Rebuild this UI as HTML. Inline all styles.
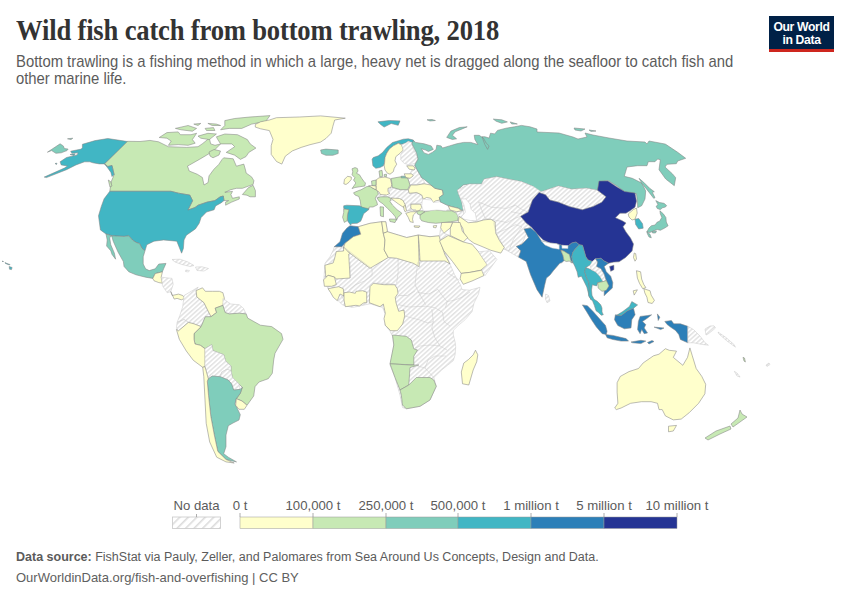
<!DOCTYPE html>
<html><head><meta charset="utf-8">
<style>
html,body{margin:0;padding:0;background:#fff;}
body{width:850px;height:600px;position:relative;overflow:hidden;font-family:"Liberation Sans",sans-serif;}
.t{position:absolute;white-space:nowrap;}
#title{left:15.5px;top:14.3px;font-family:"Liberation Serif",serif;font-weight:bold;font-size:29px;color:#333;letter-spacing:-0.2px;transform:scaleX(0.918);transform-origin:0 0;}
#sub{left:16px;top:52.5px;font-size:16.4px;line-height:17.8px;color:#5b5b5b;transform:scaleX(0.905);transform-origin:0 0;}
#logo{position:absolute;left:769px;top:16px;width:65px;height:36px;background:#002147;}
#logo .bar{position:absolute;left:0;bottom:0;width:65px;height:3px;background:#ce261e;}
#logo .txt{position:absolute;left:0;top:5px;width:65px;text-align:center;color:#fff;font-size:12.2px;line-height:12.5px;font-weight:bold;letter-spacing:-0.35px;}
.lg{position:absolute;top:498px;font-size:13.2px;color:#5b5b5b;transform:translateX(-50%);}
#src{left:16px;top:550px;font-size:12.5px;color:#5b5b5b;}
#url{left:16px;top:569.7px;font-size:13px;color:#606060;}
</style></head><body>
<div class="t" id="title">Wild fish catch from bottom trawling, 2018</div>
<div class="t" id="sub">Bottom trawling is a fishing method in which a large, heavy net is dragged along the seafloor to catch fish and<br>other marine life.</div>
<div id="logo"><div class="txt">Our World<br>in Data</div><div class="bar"></div></div>
<svg style="position:absolute;left:0;top:0" width="850" height="600" viewBox="0 0 850 600">
<defs>
<pattern id="hatch" patternUnits="userSpaceOnUse" width="3.35" height="3.35" patternTransform="rotate(48)">
<rect width="3.35" height="3.35" fill="#fff"/><rect width="1.5" height="3.35" fill="#e2e2e2"/>
</pattern>
<pattern id="hatch2" patternUnits="userSpaceOnUse" width="6" height="6" patternTransform="rotate(45)">
<rect width="6" height="6" fill="#fff"/><rect width="1.6" height="6" fill="#dcdcdc"/>
</pattern>
</defs>
<path d="M47.4,152.2L60.1,143.8L63.3,145.9L64.4,148.5L68.1,149.1L67.0,150.6L61.2,152.8L55.9,153.3L51.6,150.6Z" fill="#7fcdbb" stroke="#858585" stroke-width="0.55"/>
<path d="M67.5,138.8L72.8,138.2L71.0,139.6Z" fill="#7fcdbb" stroke="#858585" stroke-width="0.55"/>
<path d="M127.9,141.6L107.8,138.5L95.1,140.6L82.4,144.3L82.4,147.5L81.3,149.1L70.7,151.2L71.8,153.3L78.1,152.8L77.1,154.9L66.5,157.5L60.1,161.8L61.2,164.9L67.5,166.0L64.4,168.1L44.2,177.1L46.4,177.6L66.5,169.7L76.0,164.9L84.5,161.8L89.8,161.8L92.9,162.8L99.3,163.9L104.6,163.9Z" fill="#41b6c4" stroke="#858585" stroke-width="0.55"/>
<path d="M70.0,154.5L75.0,153.8L74.0,155.5Z" fill="#41b6c4" stroke="#858585" stroke-width="0.55"/>
<path d="M55.0,163.5L57.0,163.2L56.5,164.5Z" fill="#41b6c4" stroke="#858585" stroke-width="0.55"/>
<path d="M127.6,141.3L140.0,141.5L150.0,140.4L158.5,141.8L168.4,146.7L186.7,147.4L198.0,146.7L202.2,143.9L209.3,138.2L210.7,143.9L215.0,145.3L220.6,143.9L213.5,151.0L206.5,155.2L199.4,159.4L189.5,165.0L187.5,166.0L189.2,171.0L197.4,174.3L202.4,177.5L204.0,185.0L208.1,182.5L209.0,175.9L213.9,169.3L218.8,164.4L222.1,159.4L223.7,157.8L233.2,158.8L236.4,166.2L243.8,164.1L245.5,170.0L246.2,173.1L251.6,176.9L253.9,180.7L253.1,184.5L248.5,186.1L242.4,188.3L236.3,188.3L230.2,189.9L225.6,192.2L224.8,192.2L232.5,191.4L230.9,194.5L232.5,198.3L239.3,196.8L239.3,199.0L231.7,202.1L225.6,205.2L225.6,202.1L228.6,200.6L224.0,200.6L223.3,196.0L220.2,196.8L214.9,200.6L207.2,202.1L198.1,205.2L195.0,207.5L187.9,210.1L192.6,200.7L189.8,195.1L178.5,193.2L171.0,191.3L109.8,191.3L110.5,186.0L111.5,181.0L113.0,177.5L114.1,174.5L113.1,170.2L112.0,165.5L107.8,166.5L104.6,163.9Z" fill="#c7e9b4" stroke="#858585" stroke-width="0.55"/>
<path d="M104.6,163.9L107.8,166.5L112.0,165.5L113.1,170.2L114.1,174.5L112.0,176.6L110.9,172.4L107.8,168.1Z" fill="#41b6c4" stroke="#858585" stroke-width="0.55"/>
<path d="M108.3,180.0L110.5,181.5L112.0,186.0L110.0,187.0Z" fill="#c7e9b4" stroke="#858585" stroke-width="0.55"/>
<path d="M242.4,194.5L248.5,187.6L253.1,185.3L255.4,190.6L255.4,196.8L250.0,196.8L247.0,195.2Z" fill="#c7e9b4" stroke="#858585" stroke-width="0.55"/>
<path d="M216.4,136.8L224.8,134.0L237.5,134.7L247.4,139.6L250.2,143.9L255.9,148.1L248.8,152.4L246.0,156.6L240.4,159.4L234.7,155.2L226.2,152.4L234.7,146.7L231.9,143.9L220.6,143.9L217.8,139.6Z" fill="#c7e9b4" stroke="#858585" stroke-width="0.55"/>
<path d="M159.2,137.5L166.9,132.6L178.2,131.9L180.4,134.7L191.0,134.7L196.6,133.3L192.4,139.6L195.2,143.2L188.1,145.3L178.2,144.6L168.4,145.3L171.2,141.1L166.9,138.2Z" fill="#c7e9b4" stroke="#858585" stroke-width="0.55"/>
<path d="M224.8,120.6L234.7,118.5L248.8,117.1L270.0,115.6L265.8,121.3L251.7,124.1L241.8,128.4L229.1,128.4L220.6,129.8L224.8,125.5Z" fill="#c7e9b4" stroke="#858585" stroke-width="0.55"/>
<path d="M175.4,128.4L188.1,125.5L196.6,128.4L192.4,131.2L181.1,129.8Z" fill="#c7e9b4" stroke="#858585" stroke-width="0.55"/>
<path d="M193.8,124.1L200.8,123.4L198.0,125.5Z" fill="#c7e9b4" stroke="#858585" stroke-width="0.55"/>
<path d="M205.1,128.4L213.5,127.6L214.9,130.5L206.5,130.5Z" fill="#c7e9b4" stroke="#858585" stroke-width="0.55"/>
<path d="M207.9,123.4L216.4,124.1L220.6,125.5L212.1,125.5Z" fill="#c7e9b4" stroke="#858585" stroke-width="0.55"/>
<path d="M198.0,136.1L207.9,133.3L216.4,134.0L209.3,139.6L200.8,138.2Z" fill="#c7e9b4" stroke="#858585" stroke-width="0.55"/>
<path d="M209.0,152.0L214.0,149.5L220.5,151.0L219.0,155.0L213.0,157.8L210.0,156.0Z" fill="#c7e9b4" stroke="#858585" stroke-width="0.55"/>
<path d="M255.3,124.4L260.6,121.8L269.4,120.0L276.5,117.7L299.4,117.0L320.6,115.9L345.3,118.2L334.7,120.0L332.9,126.2L331.2,133.2L325.9,138.5L320.6,142.1L310.0,144.7L301.2,147.4L292.4,150.9L285.3,156.2L281.8,164.1L276.5,161.5L271.2,154.4L271.2,145.6L273.0,139.4L269.4,130.6L260.6,128.8L255.3,127.1Z" fill="#ffffcc" stroke="#858585" stroke-width="0.55"/>
<path d="M320.6,150.0L325.9,149.1L338.2,150.0L338.2,153.5L332.9,155.3L325.9,155.3L321.5,153.5Z" fill="#7fcdbb" stroke="#858585" stroke-width="0.55"/>
<path d="M109.8,191.3L171.0,191.3L178.5,193.2L189.8,195.1L192.6,200.7L187.9,210.1L195.0,207.5L198.1,205.2L207.2,202.1L214.9,200.6L220.2,196.8L223.3,196.0L224.0,200.6L221.0,202.9L215.6,205.9L214.1,209.8L206.5,212.0L201.1,217.6L199.2,223.3L195.4,228.9L186.4,235.2L184.0,240.0L183.4,248.4L181.6,253.2L176.8,241.2L163.6,240.0L154.0,241.2L146.8,244.8L145.0,250.8L142.0,248.4L139.6,243.6L136.0,242.4L132.4,240.0L128.8,235.8L124.0,236.4L112.0,235.8L106.0,234.0L100.4,229.9L98.5,215.8L101.3,206.4L104.1,198.8Z" fill="#41b6c4" stroke="#858585" stroke-width="0.55"/>
<path d="M9.2,266.5L12.1,267.5L11.5,269.6L9.5,269.2Z" fill="#41b6c4" stroke="#858585" stroke-width="0.55"/>
<path d="M2.0,261.0L3.5,261.5L3.0,262.0Z" fill="#41b6c4" stroke="#858585" stroke-width="0.55"/>
<path d="M5.0,262.5L7.0,263.5L10.0,264.5L9.5,265.0L5.5,263.5Z" fill="#41b6c4" stroke="#858585" stroke-width="0.55"/>
<path d="M112.0,235.8L124.0,236.4L128.8,235.8L132.4,240.0L136.0,242.4L139.6,243.6L142.0,248.4L145.0,250.8L143.2,256.8L143.2,264.0L145.6,268.8L149.2,270.6L155.2,268.8L158.8,264.0L166.0,263.4L163.6,268.8L162.4,271.8L160.0,272.4L155.2,273.6L152.8,278.4L145.6,277.2L136.0,274.8L128.8,271.8L124.0,266.4L123.4,261.6L118.0,252.0L113.2,241.2L112.0,237.0Z" fill="#7fcdbb" stroke="#858585" stroke-width="0.55"/>
<path d="M106.0,234.0L112.0,235.8L109.6,237.6L110.8,244.8L114.4,253.2L115.6,259.2L112.0,254.4L110.8,250.8L106.6,246.0L107.2,240.0Z" fill="#7fcdbb" stroke="#858585" stroke-width="0.55"/>
<path d="M152.8,278.4L155.2,273.6L160.0,272.4L162.4,271.8L161.2,277.2L162.4,283.2L158.8,282.6L154.0,280.8Z" fill="#ffffcc" stroke="#858585" stroke-width="0.55"/>
<path d="M161.2,277.2L172.0,278.4L173.2,284.4L170.8,291.6L167.2,292.8L162.4,285.6L162.4,283.2Z" fill="url(#hatch)" stroke="#c8c8c8" stroke-width="0.5"/>
<path d="M170.8,291.6L172.1,295.5L178.5,294.1L182.7,295.5L184.8,298.4L181.3,299.8L177.1,298.4L174.2,299.1Z" fill="#ffffcc" stroke="#858585" stroke-width="0.55"/>
<path d="M172.0,259.5L180.0,259.2L188.0,262.0L194.0,265.5L190.0,266.5L182.0,264.5L175.0,262.0Z" fill="url(#hatch)" stroke="#c8c8c8" stroke-width="0.5"/>
<path d="M195.5,267.0L202.0,266.8L208.5,268.5L204.0,271.0L197.0,270.5Z" fill="url(#hatch)" stroke="#c8c8c8" stroke-width="0.5"/>
<path d="M185.8,270.0L189.4,270.5L188.5,272.0L185.5,271.5Z" fill="url(#hatch)" stroke="#c8c8c8" stroke-width="0.5"/>
<path d="M184.1,295.5L198.2,287.1L196.1,290.6L196.8,296.9L203.9,302.6L208.1,311.1L211.0,316.7L205.3,316.7L201.1,326.6L194.0,323.8L188.4,322.4L184.1,319.5L177.1,322.4L179.9,315.3L182.7,306.8Z" fill="url(#hatch)" stroke="#c8c8c8" stroke-width="0.5"/>
<path d="M177.1,322.4L184.1,319.5L188.4,322.4L178.5,330.8L176.4,328.0Z" fill="url(#hatch)" stroke="#c8c8c8" stroke-width="0.5"/>
<path d="M196.1,290.6L202.5,287.8L205.3,291.3L212.4,291.3L219.4,291.3L222.9,292.7L224.4,298.4L222.9,305.4L215.2,308.2L216.6,312.5L211.0,316.7L208.1,311.1L203.9,302.6L196.8,296.9Z" fill="#ffffcc" stroke="#858585" stroke-width="0.55"/>
<path d="M222.9,298.4L230.7,304.0L239.2,304.7L243.4,308.2L246.2,313.9L239.2,313.2L229.3,313.9L225.1,312.5L222.9,305.4Z" fill="url(#hatch)" stroke="#c8c8c8" stroke-width="0.5"/>
<path d="M201.1,326.6L205.3,316.7L211.0,316.7L216.6,312.5L215.2,308.2L222.9,305.4L225.1,312.5L229.3,313.9L239.2,313.2L246.2,313.9L247.7,318.1L260.4,325.2L271.7,326.6L281.5,333.6L283.0,339.3L275.0,353.3L273.7,360.0L272.3,373.3L268.3,378.7L259.0,382.0L255.0,386.7L253.7,396.0L247.0,405.3L242.0,401.0L236.3,398.7L240.3,393.3L242.3,387.3L239.0,384.0L232.3,377.3L231.0,370.7L231.0,366.0L225.7,361.3L223.7,354.7L213.0,350.7L211.7,344.7L205.0,348.7L200.3,345.3L195.0,344.0L194.0,339.3L194.0,333.6Z" fill="#c7e9b4" stroke="#858585" stroke-width="0.55"/>
<path d="M176.4,329.4L178.5,330.8L188.4,322.4L194.0,323.8L201.1,326.6L194.0,333.6L194.0,339.3L195.0,344.0L200.3,345.3L205.0,348.7L205.0,366.7L202.7,367.3L193.3,360.3L186.3,351.0L179.3,339.3Z" fill="#ffffcc" stroke="#858585" stroke-width="0.55"/>
<path d="M205.0,348.7L211.7,344.7L213.0,350.7L223.7,354.7L225.7,361.3L231.0,366.0L231.0,370.7L227.0,369.3L221.7,372.0L220.3,376.7L212.3,376.0L208.3,378.7L205.0,366.7Z" fill="url(#hatch)" stroke="#c8c8c8" stroke-width="0.5"/>
<path d="M221.7,372.0L227.0,369.3L231.0,370.7L232.3,377.3L239.0,384.0L240.3,389.3L233.7,390.0L231.7,384.0L228.3,380.0L220.3,376.7Z" fill="url(#hatch)" stroke="#c8c8c8" stroke-width="0.5"/>
<path d="M208.3,378.7L212.3,376.0L220.3,376.7L228.3,380.0L231.7,384.0L233.7,390.0L240.3,389.3L242.3,387.3L240.3,393.3L236.3,398.7L235.0,404.0L237.7,409.3L240.3,414.7L239.0,420.0L233.0,423.0L228.3,425.7L226.0,435.0L226.0,446.7L223.7,453.7L228.3,457.2L236.5,461.9L226.0,459.5L217.8,451.4L214.3,435.0L210.8,416.3L208.5,395.3L207.3,381.3Z" fill="#7fcdbb" stroke="#858585" stroke-width="0.55"/>
<path d="M205.0,366.7L208.3,378.7L207.3,381.3L208.5,395.3L210.8,416.3L214.3,435.0L217.8,451.4L226.0,459.5L234.2,463.0L226.0,461.9L216.7,457.2L209.7,442.0L206.2,423.3L205.0,400.0L203.8,376.7L202.7,367.3Z" fill="#ffffcc" stroke="#858585" stroke-width="0.55"/>
<path d="M236.3,398.7L242.0,401.0L247.0,405.3L244.3,409.3L239.0,409.3L235.7,405.3Z" fill="#ffffcc" stroke="#858585" stroke-width="0.55"/>
<path d="M350.0,225.8L358.3,226.7L370.0,223.3L381.7,221.7L385.8,221.7L387.5,231.7L398.3,235.0L406.7,237.5L418.3,235.0L430.0,236.7L439.2,235.8L440.6,242.0L450.0,264.0L454.5,274.5L460.5,285.0L462.0,289.5L469.5,290.2L480.0,287.3L478.5,294.0L474.0,303.0L472.0,311.7L465.0,319.8L458.0,325.7L453.3,330.3L453.3,335.0L455.1,342.0L455.7,346.7L455.1,354.8L453.3,360.7L447.5,365.3L441.7,370.0L433.8,377.5L436.3,386.3L430.0,400.0L420.0,406.3L406.3,408.8L402.5,407.5L400.0,395.0L395.0,377.5L390.0,365.0L393.8,345.0L392.5,336.3L390.0,331.3L385.0,325.0L386.3,316.3L382.5,307.5L370.0,303.8L352.5,307.5L342.5,305.0L332.5,295.0L327.5,287.5L323.8,280.0L325.0,263.3L330.0,256.7L333.3,250.0L334.2,246.7L341.7,246.7L345.0,243.3L353.3,236.7L346.7,228.3Z" fill="url(#hatch)" stroke="#c8c8c8" stroke-width="0.5"/>
<path d="M350.0,225.8L358.3,226.7L360.8,234.2L353.3,236.7L345.0,243.3L341.7,246.7L334.2,246.7L340.0,241.7L342.5,233.3L346.7,228.3Z" fill="#2c7fb8" stroke="#858585" stroke-width="0.55"/>
<path d="M358.3,226.7L370.0,223.3L381.7,221.7L383.3,233.3L385.0,240.0L384.2,250.0L388.3,257.5L370.0,268.3L350.0,253.3L343.3,248.3L345.0,243.3L353.3,236.7L360.8,234.2Z" fill="#ffffcc" stroke="#858585" stroke-width="0.55"/>
<path d="M381.7,221.7L385.8,221.7L387.5,231.7L383.3,233.3Z" fill="#ffffcc" stroke="#858585" stroke-width="0.55"/>
<path d="M387.5,231.7L398.3,235.0L406.7,237.5L418.3,235.0L419.2,266.7L413.3,263.3L396.7,258.3L388.3,257.5L384.2,250.0L385.0,240.0L383.3,233.3Z" fill="#ffffcc" stroke="#858585" stroke-width="0.55"/>
<path d="M418.3,235.0L430.0,236.7L439.2,235.8L440.6,242.0L445.0,255.0L450.0,264.0L445.0,261.0L420.0,261.0L419.2,245.0Z" fill="#ffffcc" stroke="#858585" stroke-width="0.55"/>
<path d="M343.6,246.9L349.6,253.3L348.7,254.2L350.1,278.0L336.3,279.0L334.5,277.1L328.1,275.3L325.8,277.1L324.9,265.2L333.1,263.0L334.5,258.8L336.3,251.5L343.6,251.0Z" fill="#ffffcc" stroke="#858585" stroke-width="0.55"/>
<path d="M323.5,279.9L328.1,275.3L334.5,277.1L336.3,284.5L331.7,286.3L324.4,286.3Z" fill="#ffffcc" stroke="#858585" stroke-width="0.55"/>
<path d="M328.0,288.7L338.7,286.7L343.3,288.7L344.0,296.0L340.0,294.0L337.3,300.7L333.3,297.3L330.7,292.7Z" fill="#ffffcc" stroke="#858585" stroke-width="0.55"/>
<path d="M344.0,292.7L349.3,292.0L355.3,293.3L356.0,291.3L362.7,290.7L364.0,291.3L366.7,292.0L366.7,302.7L364.0,302.7L359.3,306.0L356.0,305.3L350.7,306.0L345.3,306.7L344.0,300.0Z" fill="#ffffcc" stroke="#858585" stroke-width="0.55"/>
<path d="M370.0,286.7L373.3,283.3L384.0,284.7L394.7,284.7L397.3,288.7L398.0,293.3L395.3,297.3L396.0,302.7L398.7,311.3L404.0,310.0L404.7,316.0L402.7,324.0L397.3,330.7L390.7,330.7L385.3,325.3L384.0,318.7L385.3,313.3L383.3,304.0L380.0,306.7L374.7,304.7L369.3,302.7Z" fill="#ffffcc" stroke="#858585" stroke-width="0.55"/>
<path d="M392.5,335.0L406.3,336.3L411.3,340.0L413.8,348.8L417.5,350.0L413.8,356.3L413.8,365.0L390.0,363.8L393.8,345.0Z" fill="#c7e9b4" stroke="#858585" stroke-width="0.55"/>
<path d="M390.0,363.8L410.0,365.0L418.8,365.0L410.0,367.5L408.8,385.0L400.0,390.0L395.0,377.5Z" fill="#c7e9b4" stroke="#858585" stroke-width="0.55"/>
<path d="M400.0,390.0L408.8,385.0L416.3,377.5L430.0,377.5L433.8,380.0L436.3,386.3L430.0,400.0L420.0,406.3L406.3,408.8L402.5,405.0L401.3,395.0Z" fill="#c7e9b4" stroke="#858585" stroke-width="0.55"/>
<path d="M475.5,350.2L477.8,354.8L476.7,361.8L473.2,370.0L468.8,385.0L462.5,383.8L461.3,372.0L463.8,363.0L468.5,359.5L473.2,354.8Z" fill="#ffffcc" stroke="#858585" stroke-width="0.55"/>
<path d="M372.1,159.2L373.3,157.5L378.3,155.8L382.5,152.5L386.7,147.5L392.5,142.5L398.3,140.8L403.3,139.2L408.3,138.8L413.3,140.0L414.2,141.7L411.7,142.5L408.3,141.3L405.8,142.9L401.7,144.2L398.3,143.3L393.3,145.8L389.2,149.2L386.7,153.3L385.0,157.5L384.6,162.5L383.3,165.8L380.0,167.5L375.8,168.3L372.9,165.8Z" fill="#41b6c4" stroke="#858585" stroke-width="0.55"/>
<path d="M377.9,121.8L389.4,120.5L400.0,120.9L398.2,125.3L391.2,123.5L384.1,127.1L380.6,124.4Z" fill="#41b6c4" stroke="#858585" stroke-width="0.55"/>
<path d="M385.0,157.5L386.7,153.3L389.2,149.2L393.3,145.8L398.3,143.3L401.7,145.0L403.3,150.0L400.0,153.3L395.8,156.7L395.0,160.8L396.7,164.2L394.2,168.3L393.3,171.7L390.0,174.2L387.5,173.3L385.0,170.0L384.2,165.8L384.6,162.5Z" fill="#ffffcc" stroke="#858585" stroke-width="0.55"/>
<path d="M401.7,145.0L405.8,142.9L408.3,141.3L411.7,142.5L413.3,148.3L415.0,152.5L418.3,158.3L415.0,163.3L409.2,165.0L404.2,163.3L400.8,160.0L400.8,154.2L403.3,150.0Z" fill="url(#hatch)" stroke="#c8c8c8" stroke-width="0.5"/>
<path d="M352.0,168.8L355.0,167.6L357.3,168.4L358.0,171.0L356.5,173.3L359.5,174.8L361.8,178.5L364.0,181.5L365.5,183.0L364.8,186.0L359.5,186.8L355.0,187.5L352.0,188.6L354.3,185.3L355.8,183.0L353.5,180.0L355.0,177.8L352.0,174.8L352.8,171.8Z" fill="#c7e9b4" stroke="#858585" stroke-width="0.55"/>
<path d="M343.8,183.8L344.5,179.3L347.5,176.3L351.3,177.0L351.3,179.3L349.0,182.3L346.0,184.5Z" fill="#ffffcc" stroke="#858585" stroke-width="0.55"/>
<path d="M375.9,194.4L382.9,193.8L389.4,193.8L388.8,189.7L391.8,187.4L400.6,189.7L407.6,189.7L410.0,193.2L417.0,193.2L421.8,194.4L422.9,199.1L421.8,202.6L417.0,203.8L411.2,203.8L411.2,209.7L407.6,210.9L405.3,208.5L402.9,205.0L399.4,200.3L391.2,200.3L391.2,198.0L386.5,196.8L382.9,197.4L377.0,198.0Z" fill="url(#hatch)" stroke="#c8c8c8" stroke-width="0.5"/>
<path d="M407.6,177.9L414.7,165.0L417.0,169.7L421.8,177.9L424.1,181.5L425.3,183.8L408.8,185.0L410.0,185.0Z" fill="url(#hatch)" stroke="#c8c8c8" stroke-width="0.5"/>
<path d="M353.5,192.8L358.8,190.5L361.0,189.8L366.3,186.8L370.0,186.0L373.0,188.3L377.5,190.5L378.3,194.3L376.0,196.5L375.3,198.8L376.8,201.8L377.5,204.8L373.0,207.0L369.3,207.0L368.5,210.0L361.0,207.0L360.3,201.0L358.8,196.5L355.0,195.0Z" fill="#c7e9b4" stroke="#858585" stroke-width="0.55"/>
<path d="M343.7,205.8L346.7,205.2L359.5,205.8L363.0,207.5L368.8,208.7L367.7,210.5L363.6,213.7L362.4,217.2L360.7,221.2L357.2,223.3L351.9,223.6L350.5,225.0L347.8,221.2L347.2,218.3L348.4,210.2L343.7,208.4Z" fill="#41b6c4" stroke="#858585" stroke-width="0.55"/>
<path d="M343.7,209.0L349.0,209.6L347.5,214.2L347.2,220.7L344.3,222.4L342.6,217.2L343.7,212.5Z" fill="#c7e9b4" stroke="#858585" stroke-width="0.55"/>
<path d="M376.0,180.0L379.0,177.8L385.0,177.0L390.3,178.5L391.8,184.5L391.0,187.5L388.0,188.3L388.0,191.3L389.5,193.5L386.5,195.0L380.5,194.6L379.0,192.0L376.0,189.8L376.0,185.3Z" fill="#ffffcc" stroke="#858585" stroke-width="0.55"/>
<path d="M368.5,186.0L372.0,185.5L376.0,186.0L376.0,189.8L373.0,188.3L370.0,186.5Z" fill="#ffffcc" stroke="#858585" stroke-width="0.55"/>
<path d="M371.5,181.0L376.0,180.0L376.0,185.3L372.0,185.5Z" fill="#c7e9b4" stroke="#858585" stroke-width="0.55"/>
<path d="M379.0,171.0L382.0,170.3L382.8,176.3L379.8,177.0Z" fill="#c7e9b4" stroke="#858585" stroke-width="0.55"/>
<path d="M384.2,174.5L386.5,174.2L386.5,176.5L384.5,176.5Z" fill="#c7e9b4" stroke="#858585" stroke-width="0.55"/>
<path d="M391.2,178.5L400.6,176.8L407.6,177.9L410.0,185.0L407.6,189.7L400.6,189.7L392.4,187.4Z" fill="#c7e9b4" stroke="#858585" stroke-width="0.55"/>
<path d="M401.2,176.2L406.5,176.2L406.5,177.9L401.2,177.9Z" fill="#7fcdbb" stroke="#858585" stroke-width="0.55"/>
<path d="M404.2,173.8L411.7,173.8L413.3,175.8L410.0,178.3L405.8,177.5Z" fill="#ffffcc" stroke="#858585" stroke-width="0.55"/>
<path d="M406.7,165.8L413.3,165.8L415.0,168.3L414.2,170.0L409.2,169.2Z" fill="#ffffcc" stroke="#858585" stroke-width="0.55"/>
<path d="M410.8,185.0L416.7,185.0L424.2,183.8L430.8,185.0L435.0,188.3L442.5,190.0L443.3,194.6L440.8,196.3L439.2,197.5L440.0,200.0L435.8,200.8L433.3,202.5L431.7,200.0L430.8,198.3L426.7,197.5L423.3,199.2L421.7,195.0L416.7,192.5L409.2,193.3L408.3,190.0Z" fill="#ffffcc" stroke="#858585" stroke-width="0.55"/>
<path d="M391.2,198.0L399.4,198.5L402.9,200.3L405.3,205.0L405.3,206.2L403.5,207.4L398.2,203.8L393.5,200.3Z" fill="#ffffcc" stroke="#858585" stroke-width="0.55"/>
<path d="M403.5,206.2L405.3,205.6L406.5,210.9L405.3,212.0L404.1,209.7Z" fill="#ffffcc" stroke="#858585" stroke-width="0.55"/>
<path d="M410.8,204.2L420.8,204.2L421.7,207.5L419.2,210.8L414.2,210.8L410.8,208.3Z" fill="#ffffcc" stroke="#858585" stroke-width="0.55"/>
<path d="M407.6,210.9L411.2,209.7L415.9,209.7L410.0,210.5L406.5,211.0Z" fill="url(#hatch)" stroke="#c8c8c8" stroke-width="0.5"/>
<path d="M405.8,213.3L410.8,211.7L416.7,211.7L413.3,215.0L412.5,219.2L413.3,222.5L410.0,221.7L408.3,217.5Z" fill="#ffffcc" stroke="#858585" stroke-width="0.55"/>
<path d="M414.0,225.8L420.0,226.0L419.0,227.5L414.5,227.2Z" fill="#ffffcc" stroke="#858585" stroke-width="0.55"/>
<path d="M433.3,225.8L436.7,225.5L436.0,227.8L433.5,227.5Z" fill="#ffffcc" stroke="#858585" stroke-width="0.55"/>
<path d="M377.0,198.0L380.6,196.8L387.6,196.8L391.2,198.5L390.0,201.5L392.4,205.0L397.1,209.7L401.8,213.2L400.0,215.6L398.2,216.8L396.5,220.3L395.3,216.8L392.4,213.2L387.6,208.5L382.9,203.8L379.4,201.5Z" fill="#c7e9b4" stroke="#858585" stroke-width="0.55"/>
<path d="M389.4,219.0L396.5,219.2L395.0,222.6L390.0,221.5Z" fill="#c7e9b4" stroke="#858585" stroke-width="0.55"/>
<path d="M380.0,206.8L383.5,207.0L383.5,216.8L380.5,216.0Z" fill="#c7e9b4" stroke="#858585" stroke-width="0.55"/>
<path d="M420.0,215.0L425.0,211.7L435.0,209.6L443.3,210.8L451.7,210.8L456.7,213.3L458.3,217.5L457.5,220.8L450.8,221.7L443.3,222.5L435.8,223.3L428.3,222.5L421.7,220.8L420.0,218.3Z" fill="#c7e9b4" stroke="#858585" stroke-width="0.55"/>
<path d="M456.7,211.7L461.7,210.8L463.3,210.8L466.0,212.0L465.4,214.0L464.0,216.5L458.3,217.5L456.7,213.3Z" fill="url(#hatch)" stroke="#c8c8c8" stroke-width="0.5"/>
<path d="M416.7,211.7L419.2,210.8L423.0,210.8L425.0,211.7L422.0,213.5L420.0,215.0L417.5,214.0Z" fill="#c7e9b4" stroke="#858585" stroke-width="0.55"/>
<path d="M422.5,199.2L431.7,200.0L433.3,202.5L440.0,201.7L446.7,205.0L450.0,208.3L445.8,210.8L436.7,210.0L429.2,210.8L423.3,210.8L421.7,205.8Z" fill="#fff" stroke="#c8c8c8" stroke-width="0.5"/>
<path d="M413.4,140.7L415.6,142.4L424.1,143.8L431.2,145.9L433.3,149.4L428.4,151.5L425.5,150.1L421.3,148.7L424.1,152.9L428.4,154.4L432.6,152.2L436.1,149.4L436.8,145.2L441.1,145.9L442.5,148.0L449.5,145.9L456.6,143.8L463.6,142.4L470.7,142.4L477.8,144.5L474.9,139.5L474.2,135.3L479.2,135.3L483.4,138.1L486.2,143.1L489.1,145.9L487.6,149.4L484.8,144.5L482.0,136.7L484.8,136.7L489.1,138.1L490.5,133.2L494.7,133.9L497.5,130.4L506.0,128.2L514.5,126.8L521.5,125.4L530.0,126.8L537.0,129.0L537.0,132.0L559.0,133.0L573.0,137.0L578.0,139.0L587.0,137.0L585.0,133.0L593.0,135.0L609.0,138.0L627.0,141.0L645.0,142.0L647.0,144.0L649.0,141.0L665.0,144.0L665.7,144.3L677.7,152.3L685.7,158.3L677.7,161.0L676.3,163.7L667.0,164.3L665.0,167.0L672.3,173.7L675.7,177.7L674.3,185.7L665.7,179.0L659.0,169.7L660.3,159.7L657.7,159.0L655.0,161.7L648.3,161.7L647.0,165.7L637.7,165.7L627.0,167.0L624.3,176.3L632.3,178.3L641.7,183.0L645.7,191.0L645.0,199.0L641.7,205.7L637.7,207.7L637.5,202.2L636.4,193.6L625.6,192.5L617.0,186.0L608.3,180.6L599.6,181.7L597.5,190.3L586.6,188.2L571.5,189.2L558.5,186.0L539.0,192.5L533.5,186.6L521.2,181.6L508.8,179.2L496.5,176.7L484.1,179.2L481.6,184.1L469.3,184.1L463.3,185.0L457.5,190.0L458.3,193.3L461.7,201.7L463.3,210.8L458.3,208.3L451.7,206.7L446.7,205.0L440.0,201.7L440.0,200.0L439.2,197.5L440.8,196.3L443.3,194.6L442.5,190.0L435.0,188.3L430.8,185.0L425.0,180.0L421.8,177.9L417.0,169.7L414.7,165.0L418.0,159.1L416.5,152.9L411.9,143.8Z" fill="#7fcdbb" stroke="#858585" stroke-width="0.55"/>
<path d="M446.7,137.4L450.9,131.1L459.4,127.5L467.2,126.8L462.2,128.9L455.2,131.8L452.4,135.3L456.6,138.8L452.4,139.5Z" fill="#7fcdbb" stroke="#858585" stroke-width="0.55"/>
<path d="M427.0,119.8L432.0,119.5L435.4,120.5L430.0,121.0Z" fill="#7fcdbb" stroke="#858585" stroke-width="0.55"/>
<path d="M493.3,119.1L501.8,119.8L507.4,121.9L501.8,123.3L496.1,121.2Z" fill="#7fcdbb" stroke="#858585" stroke-width="0.55"/>
<path d="M510.2,121.9L517.3,124.0L511.7,124.0Z" fill="#7fcdbb" stroke="#858585" stroke-width="0.55"/>
<path d="M574.0,128.0L585.0,129.0L581.0,131.0L575.0,130.0Z" fill="#7fcdbb" stroke="#858585" stroke-width="0.55"/>
<path d="M589.0,130.0L596.0,131.0L591.0,131.4Z" fill="#7fcdbb" stroke="#858585" stroke-width="0.55"/>
<path d="M639.0,178.3L643.7,182.3L649.7,188.3L654.3,191.7L652.3,192.3L655.0,197.7L653.7,198.3L647.0,189.7L641.7,183.0Z" fill="#7fcdbb" stroke="#858585" stroke-width="0.55"/>
<path d="M457.5,190.0L469.3,184.1L481.6,184.1L484.1,179.2L496.5,176.7L508.8,179.2L521.2,181.6L533.5,186.6L540.9,191.5L532.5,200.1L528.2,212.0L520.6,216.3L526.0,222.8L531.4,227.1L528.2,229.3L521.9,244.2L516.4,246.4L520.8,250.7L518.6,257.2L503.4,248.5L500.2,239.8L495.9,233.3L493.7,222.5L482.9,220.3L475.0,222.0L464.0,216.0L463.3,210.8L461.7,201.7L458.3,193.3Z" fill="url(#hatch)" stroke="#c8c8c8" stroke-width="0.5"/>
<path d="M461.0,198.7L466.0,199.0L470.0,204.0L471.0,209.2L475.3,213.5L476.7,220.6L471.0,220.6L464.0,219.2L461.2,217.0L465.4,212.1L464.0,205.0Z" fill="#fff" stroke="#c8c8c8" stroke-width="0.5"/>
<path d="M448.3,205.8L458.3,208.3L461.7,210.8L456.7,211.7L450.0,210.0Z" fill="#ffffcc" stroke="#858585" stroke-width="0.55"/>
<path d="M539.0,192.5L558.5,186.0L571.5,189.2L586.6,188.2L597.5,190.3L606.1,196.8L601.8,202.2L593.1,206.6L582.3,209.8L569.3,206.6L558.5,202.2L549.8,200.1L545.5,194.7Z" fill="url(#hatch)" stroke="#c8c8c8" stroke-width="0.5"/>
<path d="M459.0,216.3L468.2,222.7L476.7,222.0L483.8,219.9L490.9,219.2L495.1,222.0L495.8,233.3L499.4,240.4L504.3,247.5L500.8,253.1L490.9,250.3L481.0,246.1L473.9,243.2L468.2,239.0L464.0,233.3L462.6,227.7L458.3,222.0Z" fill="#ffffcc" stroke="#858585" stroke-width="0.55"/>
<path d="M452.5,222.5L460.1,222.5L462.3,231.2L467.7,237.7L463.3,242.0L450.3,235.5L450.3,227.9Z" fill="#ffffcc" stroke="#858585" stroke-width="0.55"/>
<path d="M441.7,222.5L452.5,222.5L450.3,227.9L443.8,233.3L440.6,227.9Z" fill="#ffffcc" stroke="#858585" stroke-width="0.55"/>
<path d="M440.6,227.9L443.8,233.3L450.3,235.5L448.2,237.0L441.0,241.0L439.5,236.0Z" fill="url(#hatch)" stroke="#c8c8c8" stroke-width="0.5"/>
<path d="M439.5,240.9L448.2,235.5L463.3,242.0L472.0,244.2L478.5,251.8L487.2,264.8L480.7,270.2L469.8,272.4L461.2,273.4L452.5,261.5L443.8,250.7Z" fill="#ffffcc" stroke="#858585" stroke-width="0.55"/>
<path d="M461.2,273.4L469.8,272.4L481.8,270.2L483.9,275.6L472.0,281.0L463.3,284.3L460.1,278.9Z" fill="#ffffcc" stroke="#858585" stroke-width="0.55"/>
<path d="M478.5,251.8L489.4,250.7L496.9,259.4L485.0,275.6L481.8,270.2L487.2,264.8Z" fill="url(#hatch)" stroke="#c8c8c8" stroke-width="0.5"/>
<path d="M520.6,216.3L528.2,212.0L532.5,200.1L539.0,192.5L545.5,194.7L549.8,200.1L558.5,202.2L569.3,206.6L582.3,209.8L593.1,206.6L601.8,202.2L606.1,196.8L597.5,190.3L599.0,181.0L608.0,181.0L617.0,187.0L624.5,191.5L635.0,193.0L636.5,201.2L635.0,207.2L629.7,211.0L626.0,213.2L620.0,213.2L615.5,217.7L622.2,220.7L626.0,223.0L623.0,226.7L626.0,232.0L630.5,238.0L633.5,244.0L632.1,251.0L625.6,257.5L619.1,261.8L613.9,262.1L608.5,263.2L604.2,261.0L600.9,258.3L595.5,258.8L592.3,261.5L587.9,259.9L585.8,256.7L583.6,249.1L582.5,245.3L579.3,244.8L576.0,242.0L571.7,243.1L568.4,245.8L561.9,245.3L556.5,243.7L550.0,243.1L543.3,240.1L536.8,233.6L531.4,227.1L526.0,222.8Z" fill="#253494" stroke="#858585" stroke-width="0.55"/>
<path d="M609.6,266.4L613.9,265.3L613.9,269.7L610.7,271.3Z" fill="#253494" stroke="#858585" stroke-width="0.55"/>
<path d="M628.2,214.0L633.5,209.5L636.5,208.0L637.2,213.2L635.0,219.2L632.0,220.0L629.0,217.0Z" fill="#ffffcc" stroke="#858585" stroke-width="0.55"/>
<path d="M635.0,219.2L638.7,218.5L642.5,223.7L643.2,228.2L638.7,229.0L635.7,224.5Z" fill="#41b6c4" stroke="#858585" stroke-width="0.55"/>
<path d="M655.8,200.6L659.5,202.5L664.0,203.3L666.6,205.5L665.5,207.0L662.5,207.8L660.3,209.6L657.3,208.5L656.1,206.3L658.0,204.8Z" fill="#7fcdbb" stroke="#858585" stroke-width="0.55"/>
<path d="M659.9,210.8L663.3,213.8L665.9,217.5L666.3,222.0L668.1,225.8L664.8,228.0L660.3,230.3L657.3,229.5L655.0,230.3L649.8,232.5L646.8,232.0L649.0,228.0L651.3,225.8L655.0,225.0L657.3,222.0L659.5,221.3L661.8,217.5L660.3,213.8Z" fill="#7fcdbb" stroke="#858585" stroke-width="0.55"/>
<path d="M646.8,231.8L649.8,234.0L651.3,237.8L649.0,237.0L647.5,234.0Z" fill="#7fcdbb" stroke="#858585" stroke-width="0.55"/>
<path d="M652.0,231.5L656.5,231.0L655.5,233.0L652.5,233.0Z" fill="#7fcdbb" stroke="#858585" stroke-width="0.55"/>
<path d="M524.0,229.0L530.5,227.9L536.0,232.3L541.4,240.9L550.0,243.1L556.5,243.7L561.9,245.3L568.4,245.8L571.7,243.1L576.0,242.0L579.3,244.8L576.0,248.0L572.8,252.3L571.7,256.7L572.8,263.2L570.6,259.9L569.5,256.7L564.1,251.3L561.9,250.2L560.8,250.2L563.0,255.6L564.1,260.5L561.9,262.6L559.8,263.2L553.3,270.8L550.0,275.1L546.4,278.1L544.6,285.4L542.1,297.2L537.0,289.7L530.5,274.5L526.2,261.5L518.6,257.2L520.8,250.7L516.4,246.4L521.9,244.2L528.4,237.7Z" fill="#2c7fb8" stroke="#858585" stroke-width="0.55"/>
<path d="M541.4,240.9L550.0,243.1L556.5,243.7L559.2,245.0L559.2,249.2L552.0,248.0L545.0,245.0Z" fill="#fff" stroke="#c8c8c8" stroke-width="0.5"/>
<path d="M561.9,245.3L568.0,245.8L567.9,248.5L562.0,248.3Z" fill="#fff" stroke="#c8c8c8" stroke-width="0.5"/>
<path d="M560.8,250.2L564.1,251.3L569.5,254.5L570.6,259.9L571.7,263.2L569.5,261.0L566.3,261.5L564.1,260.5L563.0,255.6Z" fill="#c7e9b4" stroke="#858585" stroke-width="0.55"/>
<path d="M579.3,244.8L582.5,245.3L583.6,249.1L585.8,256.7L587.9,259.9L592.3,261.5L591.2,264.3L585.8,267.5L584.7,271.8L586.8,278.3L589.0,282.7L590.1,291.3L591.2,300.0L589.0,295.7L586.8,287.0L583.6,280.5L581.4,276.2L578.2,277.3L577.1,271.8L574.9,266.4L572.8,262.1L571.7,256.7L572.8,252.3L576.0,248.0Z" fill="#41b6c4" stroke="#858585" stroke-width="0.55"/>
<path d="M585.8,267.5L591.2,269.7L595.5,271.8L599.8,276.2L603.1,281.6L597.7,282.7L596.6,285.9L592.3,284.8L591.5,290.0L592.0,295.3L594.0,299.3L597.3,301.3L600.7,304.7L602.0,308.0L602.0,312.0L603.3,314.7L601.3,315.3L598.7,312.7L596.0,310.7L594.3,305.3L592.7,301.3L590.0,298.0L588.7,296.0L588.7,293.3L589.3,288.0L588.7,284.0L589.0,282.7L586.8,278.3L584.7,271.8Z" fill="#41b6c4" stroke="#858585" stroke-width="0.55"/>
<path d="M592.3,261.5L595.5,258.8L597.7,262.1L596.6,266.4L600.9,268.6L604.2,274.0L606.3,280.5L603.1,281.6L599.8,276.2L595.5,271.8L591.2,269.7L590.1,265.3Z" fill="url(#hatch)" stroke="#c8c8c8" stroke-width="0.5"/>
<path d="M595.5,258.8L600.9,258.3L604.2,261.0L608.5,263.2L604.2,266.4L606.3,271.8L610.7,276.2L612.8,282.7L612.3,288.1L606.3,293.5L604.2,295.7L604.2,291.3L608.5,285.9L606.3,280.5L604.2,274.0L600.9,268.6L596.6,266.4L597.7,262.1Z" fill="#2c7fb8" stroke="#858585" stroke-width="0.55"/>
<path d="M597.7,282.7L603.1,281.6L606.3,280.5L609.0,285.9L606.3,290.3L602.0,291.3L598.2,288.1Z" fill="#c7e9b4" stroke="#858585" stroke-width="0.55"/>
<path d="M582.4,304.9L587.4,305.7L593.1,311.5L599.7,318.9L605.5,325.5L607.1,331.2L606.3,334.5L602.2,333.7L596.4,327.1L591.5,319.7L586.5,311.5Z" fill="#2c7fb8" stroke="#858585" stroke-width="0.55"/>
<path d="M605.5,334.5L612.9,335.4L619.5,337.0L626.1,338.6L628.5,341.1L621.1,341.1L612.9,339.5L607.1,337.8Z" fill="#2c7fb8" stroke="#858585" stroke-width="0.55"/>
<path d="M631.0,342.0L640.9,340.3L645.8,341.1L640.9,343.6L632.7,342.8Z" fill="#2c7fb8" stroke="#858585" stroke-width="0.55"/>
<path d="M647.5,342.5L652.0,340.5L654.0,341.5L649.0,344.0Z" fill="#2c7fb8" stroke="#858585" stroke-width="0.55"/>
<path d="M615.4,314.8L621.1,315.6L627.7,310.6L633.5,308.2L635.1,314.8L631.8,319.7L631.0,327.9L624.4,328.8L617.8,325.5L614.5,319.7Z" fill="#2c7fb8" stroke="#858585" stroke-width="0.55"/>
<path d="M616.2,315.6L622.8,311.5L629.4,306.5L631.8,301.6L637.6,304.9L633.5,308.2L627.7,310.6L621.1,315.6Z" fill="#41b6c4" stroke="#858585" stroke-width="0.55"/>
<path d="M640.1,316.4L647.5,315.6L651.6,314.8L647.5,318.1L642.5,321.4L645.8,324.6L644.2,327.9L647.5,332.9L644.2,333.7L641.7,329.6L640.1,333.7L637.6,329.6L638.4,321.4Z" fill="#2c7fb8" stroke="#858585" stroke-width="0.55"/>
<path d="M657.4,313.9L659.8,317.2L658.2,320.5Z" fill="#2c7fb8" stroke="#858585" stroke-width="0.55"/>
<path d="M654.1,327.1L664.0,328.0L660.7,329.6Z" fill="#2c7fb8" stroke="#858585" stroke-width="0.55"/>
<path d="M664.8,321.4L671.4,320.5L673.8,323.8L680.4,323.8L687.8,326.3L687.8,342.8L680.4,339.5L678.8,334.5L675.5,330.4L670.5,327.1L667.2,324.6Z" fill="#2c7fb8" stroke="#858585" stroke-width="0.55"/>
<path d="M687.8,326.3L693.6,329.6L700.2,336.2L705.1,342.8L708.4,345.2L701.8,344.4L693.6,342.8L687.8,342.8Z" fill="url(#hatch)" stroke="#c8c8c8" stroke-width="0.5"/>
<path d="M705.0,329.0L710.0,326.0L714.0,325.8L715.5,328.0L712.0,331.0L708.0,334.0L706.0,335.0Z" fill="url(#hatch)" stroke="#c8c8c8" stroke-width="0.5"/>
<path d="M718.0,332.0L726.0,337.5L734.0,344.5L735.5,347.2L727.0,341.0L719.0,334.0Z" fill="url(#hatch)" stroke="#c8c8c8" stroke-width="0.5"/>
<path d="M743.0,357.3L744.5,358.0L745.4,362.0L744.0,361.0Z" fill="#c7e9b4" stroke="#858585" stroke-width="0.55"/>
<path d="M734.3,371.3L737.0,373.0L740.1,377.1L737.0,376.0Z" fill="url(#hatch)" stroke="#c8c8c8" stroke-width="0.5"/>
<path d="M766.0,365.0L769.0,363.0L770.0,364.5L767.0,366.5Z" fill="url(#hatch)" stroke="#c8c8c8" stroke-width="0.5"/>
<path d="M636.4,270.7L640.6,271.8L641.7,279.2L643.8,284.5L645.9,287.6L642.7,288.7L639.5,283.4L637.4,278.1Z" fill="#ffffcc" stroke="#858585" stroke-width="0.55"/>
<path d="M643.8,288.7L650.1,290.8L651.2,295.1L654.4,300.4L652.2,303.5L648.0,302.5L646.9,297.2L644.8,292.9Z" fill="#ffffcc" stroke="#858585" stroke-width="0.55"/>
<path d="M633.2,290.8L637.4,289.8L634.2,295.1Z" fill="#ffffcc" stroke="#858585" stroke-width="0.55"/>
<path d="M634.2,253.0L635.7,253.7L636.5,259.0L635.0,261.2L633.5,257.5Z" fill="#ffffcc" stroke="#858585" stroke-width="0.55"/>
<path d="M545.7,294.0L548.5,295.5L550.0,301.0L547.0,302.7L545.5,299.0Z" fill="url(#hatch)" stroke="#c8c8c8" stroke-width="0.5"/>
<path d="M614.7,408.0L617.9,403.3L617.1,392.2L617.1,382.7L620.3,376.4L629.0,371.6L638.5,368.5L643.2,362.9L653.5,355.8L659.0,354.2L665.4,348.7L669.3,350.3L676.5,351.1L673.3,357.4L682.8,365.3L687.5,357.4L689.9,347.9L692.3,355.8L696.2,368.5L701.8,376.4L705.7,384.3L704.9,393.8L698.6,403.3L689.1,412.8L681.2,419.1L673.3,419.9L665.4,415.9L662.2,409.6L659.0,409.6L657.5,403.3L651.1,401.7L641.6,401.7L630.6,403.3L621.1,408.0L616.3,409.6Z" fill="#ffffcc" stroke="#858585" stroke-width="0.55"/>
<path d="M668.5,426.2L676.5,425.4L673.3,431.0L668.5,431.8Z" fill="#ffffcc" stroke="#858585" stroke-width="0.55"/>
<path d="M740.0,410.0L742.0,414.0L747.0,417.0L740.0,422.0L733.0,427.0L731.0,424.0L738.0,418.0Z" fill="#c7e9b4" stroke="#858585" stroke-width="0.55"/>
<path d="M730.0,426.0L731.0,429.0L720.0,434.0L708.0,440.0L705.0,438.0L716.0,431.0Z" fill="#c7e9b4" stroke="#858585" stroke-width="0.55"/>
<path d="M343.6,246.9L372.0,268.9" fill="none" stroke="#c8c8c8" stroke-width="0.5"/>
<path d="M350.1,262.0L350.1,278.0" fill="none" stroke="#c8c8c8" stroke-width="0.5"/>
<path d="M372.1,268.7L372.1,275.6L364.5,281.0L355.3,284.8L349.2,290.0" fill="none" stroke="#c8c8c8" stroke-width="0.5"/>
<path d="M388.3,257.5L398.1,258.8L398.1,272.5L396.6,283.2" fill="none" stroke="#c8c8c8" stroke-width="0.5"/>
<path d="M372.1,283.2L385.9,283.2L396.6,284.8" fill="none" stroke="#c8c8c8" stroke-width="0.5"/>
<path d="M418.0,261.8L416.5,272.5L415.0,284.8L419.5,294.0L425.7,304.7" fill="none" stroke="#c8c8c8" stroke-width="0.5"/>
<path d="M398.1,295.5L407.3,295.5L415.0,290.9" fill="none" stroke="#c8c8c8" stroke-width="0.5"/>
<path d="M398.7,304.7L408.8,307.0L425.7,306.2L434.8,307.7" fill="none" stroke="#c8c8c8" stroke-width="0.5"/>
<path d="M418.0,292.4L428.7,294.0L437.9,289.4L441.0,294.0" fill="none" stroke="#c8c8c8" stroke-width="0.5"/>
<path d="M441.0,294.0L447.1,301.6L445.5,307.7" fill="none" stroke="#c8c8c8" stroke-width="0.5"/>
<path d="M447.1,301.6L455.0,300.0L462.4,297.0L470.0,292.0" fill="none" stroke="#c8c8c8" stroke-width="0.5"/>
<path d="M434.8,307.7L442.5,312.3L444.0,321.5L450.0,326.0" fill="none" stroke="#c8c8c8" stroke-width="0.5"/>
<path d="M431.8,309.2L433.3,321.5L431.8,327.6L435.0,338.0L440.0,346.0" fill="none" stroke="#c8c8c8" stroke-width="0.5"/>
<path d="M447.1,272.5L459.3,280.2" fill="none" stroke="#c8c8c8" stroke-width="0.5"/>
<path d="M404.7,316.0L412.0,318.0L420.0,320.0L428.0,323.0L433.3,321.5" fill="none" stroke="#c8c8c8" stroke-width="0.5"/>
<path d="M413.8,348.8L420.0,346.0L430.0,345.0L440.0,346.0L447.0,350.0" fill="none" stroke="#c8c8c8" stroke-width="0.5"/>
<path d="M413.8,365.0L425.0,368.0L433.8,377.5" fill="none" stroke="#c8c8c8" stroke-width="0.5"/>
<path d="M425.0,368.0L428.0,360.0L435.0,356.0L446.0,356.0" fill="none" stroke="#c8c8c8" stroke-width="0.5"/>
<path d="M340.0,294.0L344.0,300.0" fill="none" stroke="#c8c8c8" stroke-width="0.5"/>
<path d="M478.5,201.9L491.5,207.3L506.7,208.4L515.4,205.2L521.9,209.5L528.2,212.0" fill="none" stroke="#c8c8c8" stroke-width="0.5"/>
<path d="M478.5,201.9L485.0,218.2L495.9,220.3" fill="none" stroke="#c8c8c8" stroke-width="0.5"/>
<path d="M495.9,220.3L506.7,222.5L515.4,218.2L520.6,216.3" fill="none" stroke="#c8c8c8" stroke-width="0.5"/>
<path d="M493.7,222.5L495.9,233.3L506.7,229.0L515.4,224.7L521.9,226.8L513.2,239.8L508.9,250.7L503.4,248.5" fill="none" stroke="#c8c8c8" stroke-width="0.5"/>
<path d="M511.0,211.7L521.9,213.8" fill="none" stroke="#c8c8c8" stroke-width="0.5"/>
<rect x="172.5" y="517" width="48" height="11.5" fill="url(#hatch2)" stroke="#c8c8c8" stroke-width="0.8"/>
<line x1="196.5" y1="514" x2="196.5" y2="517" stroke="#999" stroke-width="0.8"/>
<rect x="240" y="517" width="73" height="11.5" fill="#ffffcc" stroke="#999" stroke-width="0.5"/>
<rect x="313" y="517" width="73" height="11.5" fill="#c7e9b4" stroke="#999" stroke-width="0.5"/>
<rect x="386" y="517" width="72" height="11.5" fill="#7fcdbb" stroke="#999" stroke-width="0.5"/>
<rect x="458" y="517" width="73" height="11.5" fill="#41b6c4" stroke="#999" stroke-width="0.5"/>
<rect x="531" y="517" width="73" height="11.5" fill="#2c7fb8" stroke="#999" stroke-width="0.5"/>
<rect x="604" y="517" width="73" height="11.5" fill="#253494" stroke="#999" stroke-width="0.5"/>
<g stroke="#999" stroke-width="0.8">
<line x1="240" y1="513" x2="240" y2="517"/><line x1="313" y1="513" x2="313" y2="517"/><line x1="386" y1="513" x2="386" y2="517"/>
<line x1="458" y1="513" x2="458" y2="517"/><line x1="531" y1="513" x2="531" y2="517"/><line x1="604" y1="513" x2="604" y2="517"/><line x1="677" y1="513" x2="677" y2="517"/>
</g>
</svg>
<div class="lg" style="left:196.5px">No data</div>
<div class="lg" style="left:240px">0 t</div>
<div class="lg" style="left:313px">100,000 t</div>
<div class="lg" style="left:386px">250,000 t</div>
<div class="lg" style="left:458px">500,000 t</div>
<div class="lg" style="left:531px">1 million t</div>
<div class="lg" style="left:604px">5 million t</div>
<div class="lg" style="left:677px">10 million t</div>
<div class="t" id="src"><b>Data source:</b> FishStat via Pauly, Zeller, and Palomares from Sea Around Us Concepts, Design and Data.</div>
<div class="t" id="url">OurWorldinData.org/fish-and-overfishing | CC BY</div>
</body></html>
